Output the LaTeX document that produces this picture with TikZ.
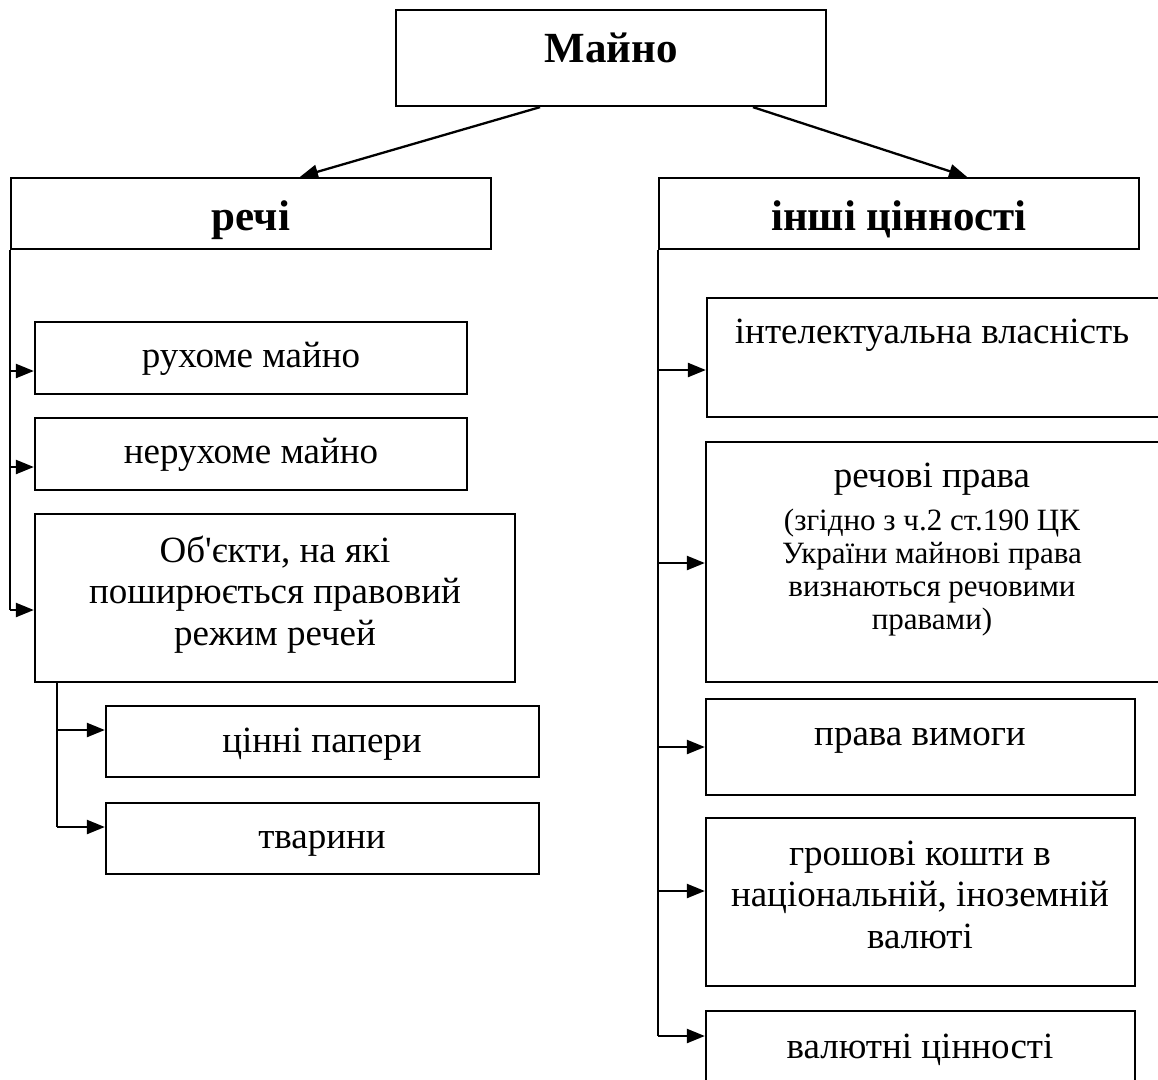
\documentclass[tikz,border=0pt]{standalone}
\usepackage{fontspec}
\setmainfont{Liberation Serif}
\usetikzlibrary{arrows.meta}
\newcommand{\bigstrut}{\rule{0pt}{29.6pt}}
\newcommand{\smallstrut}{\rule{0pt}{24.8pt}}
\tikzset{
  box/.style={draw=black, line width=2.3pt, rectangle, inner sep=0pt},
  hdr/.style={font=\fontsize{43}{50}\selectfont\bfseries, inner sep=0pt, anchor=base},
  txt/.style={font=\fontsize{37}{41}\selectfont, inner sep=0pt, anchor=base},
  mtxt/.style={font=\fontsize{37}{41.5}\selectfont, inner sep=0pt, anchor=north, align=center},
  stxt/.style={font=\fontsize{31}{33}\selectfont, inner sep=0pt, anchor=north, align=center},
  link/.style={draw=black, line width=2.3pt},
  arr/.style={draw=black, line width=2.3pt, -{Triangle[length=18pt,width=14pt]}}
}
\begin{document}
\begin{tikzpicture}[x=1pt,y=-1pt]
\useasboundingbox (0,0) rectangle (1158,1079);
% boxes
\node[box, minimum width=430pt, minimum height=96pt] (maino) at (611,58) {};
\node[box, minimum width=480pt, minimum height=71pt] (rechi) at (251,213.5) {};
\node[box, minimum width=480pt, minimum height=71pt] (inshi) at (899,213.5) {};
\node[box, minimum width=432pt, minimum height=72pt] (ruh) at (251,358) {};
\node[box, minimum width=432pt, minimum height=72pt] (neruh) at (251,454) {};
\node[box, minimum width=480pt, minimum height=168pt] (ob) at (275,598) {};
\node[box, minimum width=433pt, minimum height=71pt] (cin) at (322.5,741.5) {};
\node[box, minimum width=433pt, minimum height=71pt] (tvar) at (322.5,838.5) {};
\node[box, minimum width=452pt, minimum height=119pt] (intel) at (933,357.5) {};
\node[box, minimum width=453pt, minimum height=240pt] (rech) at (932.5,562) {};
\node[box, minimum width=429pt, minimum height=96pt] (prava) at (920.5,747) {};
\node[box, minimum width=429pt, minimum height=168pt] (grosh) at (920.5,902) {};
\node[box, minimum width=429pt, minimum height=71pt] (valut) at (920.5,1046.5) {};
% texts
\node[hdr] (mainoT) at (611,62) {Майно};
\node[hdr] (rechiT) at (251,230) {речі};
\node[hdr] (inshiT) at (899,230) {інші цінності};
\node[txt] (ruhT) at (251,367) {рухоме майно};
\node[txt] (neruhT) at (251,463) {нерухоме майно};
\node[mtxt] (obT) at (275,532.4) {\bigstrut Об\textquotesingle єкти, на які\\поширюється правовий\\режим речей};
\node[txt] (cinT) at (322,752) {цінні папери};
\node[txt] (tvarT) at (322,848) {тварини};
\node[txt] (intelT) at (932,343) {інтелектуальна власність};
\node[txt] (rechT) at (932,487) {речові права};
\node[stxt] (rechN) at (932,505.2) {\smallstrut(згідно з ч.2 ст.190 ЦК\\України майнові права\\визнаються речовими\\правами)};
\node[txt] (pravaT) at (920,745) {права вимоги};
\node[mtxt] (groshT) at (920,835.4) {\bigstrut грошові кошти в\\національній, іноземній\\валюті};
\node[txt] (valutT) at (920,1058) {валютні цінності};
% arrow levels
\coordinate (ruhY) at (0,371);
\coordinate (neruhY) at (0,467);
\coordinate (obY) at (0,610);
\coordinate (cinY) at (0,730);
\coordinate (tvarY) at (0,827);
\coordinate (intelY) at (0,370);
\coordinate (rechY) at (0,563);
\coordinate (pravaY) at (0,747);
\coordinate (groshY) at (0,891);
\coordinate (valutY) at (0,1036);
\coordinate (obRail) at ([xshift=23pt]ob.south west);
% top arrows
\draw[arr] ([xshift=-71pt]maino.south) -- ([xshift=49pt]rechi.north);
\draw[arr] ([xshift=142pt]maino.south) -- ([xshift=68pt]inshi.north);
% left rail
\draw[link] (rechi.south west) -- (rechi.south west |- obY);
\draw[arr] (rechi.south west |- ruhY) -- (ruh.west |- ruhY);
\draw[arr] (rechi.south west |- neruhY) -- (neruh.west |- neruhY);
\draw[arr] (rechi.south west |- obY) -- (ob.west |- obY);
% inner rail
\draw[link] (obRail) -- (obRail |- tvarY);
\draw[arr] (obRail |- cinY) -- (cin.west |- cinY);
\draw[arr] (obRail |- tvarY) -- (tvar.west |- tvarY);
% right rail
\draw[link] (inshi.south west) -- (inshi.south west |- valutY);
\draw[arr] (inshi.south west |- intelY) -- (intel.west |- intelY);
\draw[arr] (inshi.south west |- rechY) -- (rech.west |- rechY);
\draw[arr] (inshi.south west |- pravaY) -- (prava.west |- pravaY);
\draw[arr] (inshi.south west |- groshY) -- (grosh.west |- groshY);
\draw[arr] (inshi.south west |- valutY) -- (valut.west |- valutY);
\end{tikzpicture}
\end{document}
